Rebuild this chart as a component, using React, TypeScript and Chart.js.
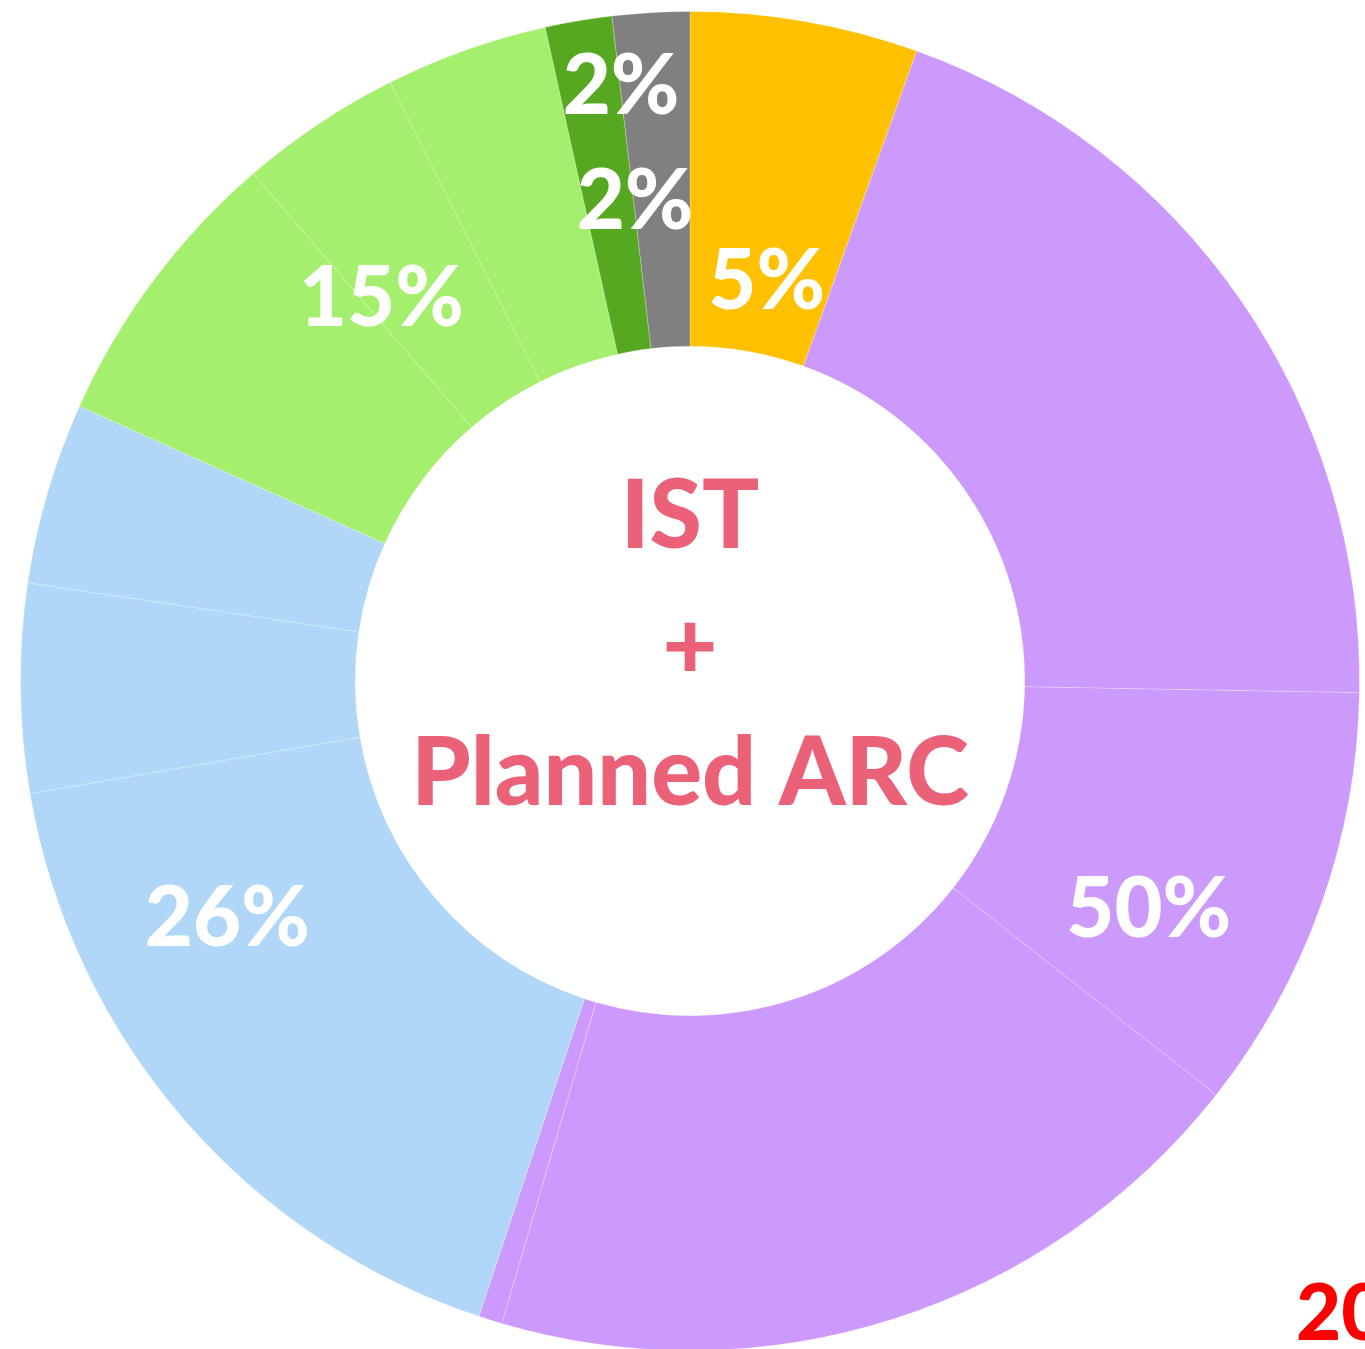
import React, { useEffect, useRef } from "react";
import { Chart, registerables } from "chart.js";

Chart.register(...registerables);

// Sub-slices of the ring, clockwise from 12 o'clock (percent of the whole)
const categories = [
  "Orange",
  "Purple 1", "Purple 2", "Purple 3", "Purple 4",
  "Blue 1", "Blue 2", "Blue 3",
  "Green 1", "Green 2", "Green 3",
  "Dark green",
  "Gray",
];
const values = [5.5, 19.78, 10.33, 18.93, 0.57, 17.21, 5.03, 4.39, 6.96, 3.92, 3.92, 1.61, 1.86];
// group index for every sub-slice
const groupOf = [0, 1, 1, 1, 1, 2, 2, 2, 3, 3, 3, 4, 5];
const groupColors = ["#FFC000", "#CC99FC", "#B0D7F8", "#A4EF6D", "#55A820", "#808080"];
const percentLabels = ["5%", "50%", "26%", "15%", "2%", "2%"];
const centerLines = ["IST", "+", "Planned ARC"];
const cornerText = "20";

// label placement: sub-slice index, fraction along the arc, fraction across the ring
const labelAnchors = [
  { slice: 0, t: 0.545, f: 0.224 },
  { slice: 2, t: 0.677, f: 0.527 },
  { slice: 5, t: 0.723, f: 0.549 },
  { slice: 8, t: 1.08, f: 0.474 },
  { slice: 11, t: 1.02, f: 0.797 },
  { slice: 12, t: 0.03, f: 0.451 },
];

const FONT = "Lato, 'Open Sans', sans-serif";

function drawInkCentered(ctx: CanvasRenderingContext2D, text: string, x: number, yc: number) {
  const m = ctx.measureText(text);
  const asc = m.actualBoundingBoxAscent;
  const desc = m.actualBoundingBoxDescent;
  ctx.fillText(text, x, yc + (asc - desc) / 2);
}

const textPlugin = {
  id: "ringText",
  afterDatasetsDraw(chart: any) {
    const ctx: CanvasRenderingContext2D = chart.ctx;
    const meta = chart.getDatasetMeta(0);
    const first = meta.data[0] as any;
    const cx = first.x;
    const cy = first.y;
    ctx.save();
    ctx.textAlign = "center";
    ctx.textBaseline = "alphabetic";

    // percent labels
    ctx.fillStyle = "#FFFFFF";
    ctx.font = `900 83px ${FONT}`;
    labelAnchors.forEach((a, i) => {
      const el = meta.data[a.slice] as any;
      const ang = el.startAngle + a.t * (el.endAngle - el.startAngle);
      const r = el.innerRadius + a.f * (el.outerRadius - el.innerRadius);
      drawInkCentered(ctx, percentLabels[i], cx + r * Math.cos(ang), cy + r * Math.sin(ang));
    });

    // centre text
    ctx.fillStyle = "#EB6178";
    ctx.font = `900 95px ${FONT}`;
    ctx.fillText(centerLines[0], cx, cy - 133);
    drawInkCentered(ctx, centerLines[1], cx, cy - 35);
    ctx.fillText(centerLines[2], cx, cy + 124);

    // corner text (partly outside the picture)
    ctx.fillStyle = "#FF0000";
    ctx.font = `900 78px ${FONT}`;
    ctx.textAlign = "left";
    ctx.fillText(cornerText, 1296, 1340);
    ctx.restore();
  },
};

export default function App() {
  const ref = useRef<HTMLCanvasElement>(null);
  useEffect(() => {
    const canvas = ref.current!;
    const chart = new Chart(canvas, {
      type: "doughnut",
      data: {
        labels: categories,
        datasets: [
          {
            data: values,
            backgroundColor: groupOf.map((g) => groupColors[g]),
            borderColor: "rgba(255,255,255,0.22)",
            borderWidth: 1,
          },
        ],
      },
      options: {
        responsive: false,
        animation: false,
        cutout: "50%",
        layout: { padding: { left: 20, top: 11, right: 40, bottom: 49 } },
        plugins: { legend: { display: false }, tooltip: { enabled: false } },
      },
      plugins: [textPlugin],
    } as any);
    return () => chart.destroy();
  }, []);
  return (
    <div
      style={{
        position: "absolute",
        left: 0,
        top: 0,
        width: 1365,
        height: 1349,
        overflow: "hidden",
        background: "#FFFFFF",
      }}
    >
      <canvas ref={ref} width={1400} height={1400} style={{ display: "block", width: 1400, height: 1400 }} />
    </div>
  );
}
